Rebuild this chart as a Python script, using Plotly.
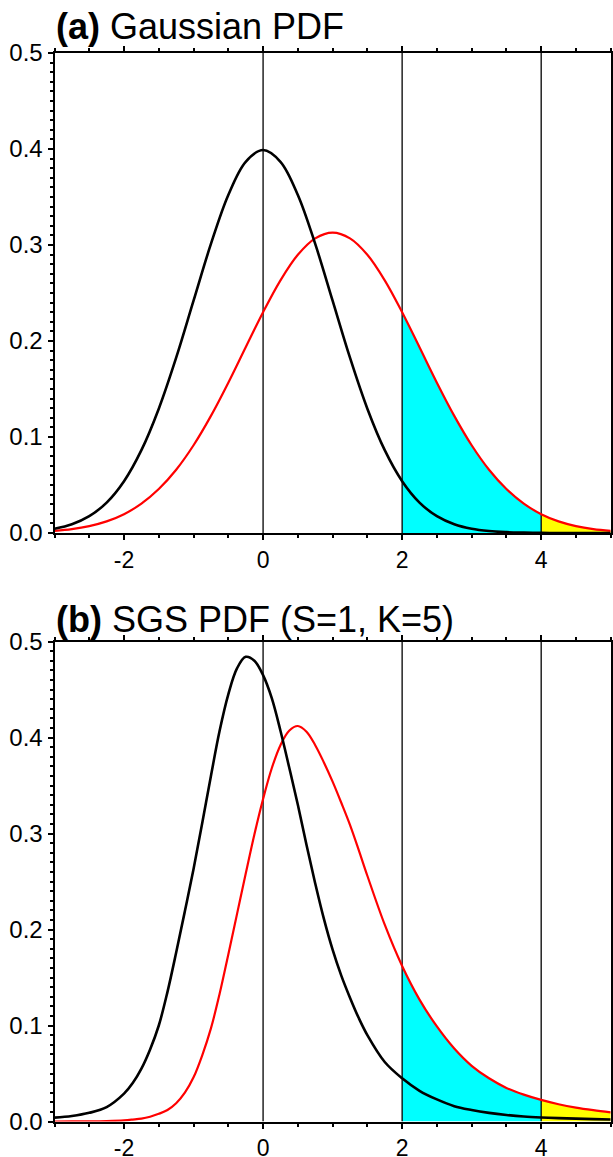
import plotly.graph_objects as go

# ---------------- data ----------------
xs_a = [-3.0, -2.75, -2.5, -2.25, -2.0, -1.75, -1.5, -1.25, -1.0, -0.75, -0.5, -0.25,
        0.0, 0.25, 0.5, 0.75, 1.0, 1.25, 1.5, 1.75, 2.0, 2.25, 2.5, 2.75,
        3.0, 3.25, 3.5, 3.75, 4.0, 4.25, 4.5, 4.75, 5.0]

gauss_black = [0.0044, 0.0091, 0.0175, 0.0317, 0.0540, 0.0863, 0.1295, 0.1826, 0.2420,
               0.3011, 0.3521, 0.3867, 0.3989, 0.3867, 0.3521, 0.3011, 0.2420, 0.1826,
               0.1295, 0.0863, 0.0540, 0.0317, 0.0175, 0.0091, 0.0044, 0.0020, 0.0009,
               0.0004, 0.0001, 0.0, 0.0, 0.0, 0.0]
gauss_red = [0.0023, 0.0041, 0.0072, 0.0121, 0.0196, 0.0306, 0.0458, 0.0659, 0.0914,
             0.1220, 0.1566, 0.1935, 0.2300, 0.2632, 0.2898, 0.3069, 0.3129, 0.3069,
             0.2898, 0.2632, 0.2300, 0.1935, 0.1566, 0.1220, 0.0914, 0.0659, 0.0458,
             0.0306, 0.0196, 0.0121, 0.0072, 0.0041, 0.0023]

xs_b = [-3.0, -2.75, -2.5, -2.25, -2.0, -1.875, -1.75, -1.625, -1.5, -1.375, -1.25, -1.125,
        -1.0, -0.875, -0.75, -0.625, -0.5, -0.375, -0.25, -0.125, 0.0, 0.125, 0.25, 0.375,
        0.5, 0.625, 0.75, 0.875, 1.0, 1.125, 1.25, 1.375, 1.5, 1.75, 2.0, 2.25, 2.5, 2.75,
        3.0, 3.25, 3.5, 3.75, 4.0, 4.25, 4.5, 4.75, 5.0]

sgs_black = [0.004, 0.0057, 0.009, 0.015, 0.029, 0.040, 0.055, 0.075, 0.100, 0.135, 0.176,
             0.219, 0.263, 0.311, 0.360, 0.407, 0.445, 0.472, 0.484, 0.480, 0.465, 0.441,
             0.407, 0.369, 0.330, 0.288, 0.248, 0.211, 0.179, 0.152, 0.129, 0.108, 0.090,
             0.062, 0.045, 0.032, 0.023, 0.016, 0.012, 0.009, 0.0068, 0.0052, 0.0042,
             0.0035, 0.003, 0.0025, 0.0021]
sgs_red = [0.0, 0.0001, 0.0002, 0.0005, 0.0012, 0.002, 0.003, 0.005, 0.008, 0.012, 0.019,
           0.030, 0.046, 0.069, 0.097, 0.133, 0.174, 0.216, 0.258, 0.299, 0.336, 0.368,
           0.392, 0.407, 0.412, 0.406, 0.392, 0.374, 0.354, 0.332, 0.309, 0.283, 0.256,
           0.205, 0.162, 0.127, 0.099, 0.076, 0.058, 0.045, 0.035, 0.028, 0.0225, 0.018,
           0.0145, 0.0118, 0.0095]

vlines = [0, 2, 4]
cyan_range = (2, 4)
yellow_range = (4, 5)

x_tickvals = [-2, 0, 2, 4]
x_ticktext = ["-2", "0", "2", "4"]
y_tickvals = [0.0, 0.1, 0.2, 0.3, 0.4, 0.5]
y_ticktext = ["0.0", "0.1", "0.2", "0.3", "0.4", "0.5"]

titles = ["<b>(a)</b> Gaussian PDF", "<b>(b)</b> SGS PDF (S=1, K=5)"]
panels = [(xs_a, gauss_black, gauss_red), (xs_b, sgs_black, sgs_red)]

# ---------------- figure ----------------
W, H = 613, 1157
FONT = "Liberation Sans, Arial, Helvetica, sans-serif"
fig = go.Figure()

x_dom = [54.5 / W, 610.7 / W]
y_doms = [[1 - 533 / H, 1 - 53 / H], [1 - 1121.5 / H, 1 - 641.5 / H]]
title_y = [26, 619]

for i, (xs, blk, red) in enumerate(panels):
    xa = "x" if i == 0 else "x2"
    ya = "y" if i == 0 else "y2"
    for (lo, hi), col in [(cyan_range, "#00ffff"), (yellow_range, "#ffff00")]:
        sx = [x for x in xs if lo <= x <= hi]
        sy = [y for x, y in zip(xs, red) if lo <= x <= hi]
        fig.add_trace(go.Scatter(x=sx, y=sy, mode="lines", fill="tozeroy",
                                 fillcolor=col, line=dict(width=0, shape="spline", color=col),
                                 xaxis=xa, yaxis=ya, showlegend=False, hoverinfo="skip"))
    for v in vlines:
        fig.add_trace(go.Scatter(x=[v, v], y=[0, 0.5], mode="lines",
                                 line=dict(color="black", width=1.3),
                                 xaxis=xa, yaxis=ya, showlegend=False, hoverinfo="skip"))
    fig.add_trace(go.Scatter(x=xs, y=red, mode="lines",
                             line=dict(color="#ff0000", width=2.2, shape="spline"),
                             xaxis=xa, yaxis=ya, showlegend=False))
    fig.add_trace(go.Scatter(x=xs, y=blk, mode="lines",
                             line=dict(color="black", width=2.6, shape="spline"),
                             xaxis=xa, yaxis=ya, showlegend=False))
    fig.add_annotation(text=titles[i], xref="paper", yref="paper",
                       x=x_dom[0] - 1 / W, y=1 - title_y[i] / H, xanchor="left", yanchor="middle",
                       showarrow=False, font=dict(family=FONT, size=36, color="black"))

common_x = dict(range=[-3, 5], showgrid=False, zeroline=False, showline=True,
                linecolor="black", linewidth=2, mirror="ticks", ticks="outside",
                ticklen=5, tickwidth=2, tickcolor="black",
                tickvals=x_tickvals, ticktext=x_ticktext,
                minor=dict(dtick=0.5, tick0=0, ticks="outside", ticklen=3, tickwidth=1.5,
                           tickcolor="black", showgrid=False),
                tickfont=dict(family=FONT, size=23, color="black"),
                ticklabelstandoff=0, automargin=False, domain=x_dom)
common_y = dict(range=[0, 0.5], showgrid=False, zeroline=False, showline=True,
                linecolor="black", linewidth=2, mirror="ticks", ticks="outside",
                ticklen=5, tickwidth=2, tickcolor="black",
                tickvals=y_tickvals, ticktext=y_ticktext,
                minor=dict(dtick=0.01, tick0=0, ticks="outside", ticklen=3, tickwidth=1.5,
                           tickcolor="black", showgrid=False),
                tickfont=dict(family=FONT, size=24, color="black"),
                ticklabelstandoff=0, automargin=False)

fig.update_layout(
    width=W, height=H, margin=dict(l=0, r=0, t=0, b=0),
    paper_bgcolor="white", plot_bgcolor="white", showlegend=False,
    xaxis=dict(**common_x, anchor="y"),
    yaxis=dict(**common_y, domain=y_doms[0], anchor="x"),
    xaxis2=dict(**common_x, anchor="y2"),
    yaxis2=dict(**common_y, domain=y_doms[1], anchor="x2"),
)

fig.write_html("out.html")
